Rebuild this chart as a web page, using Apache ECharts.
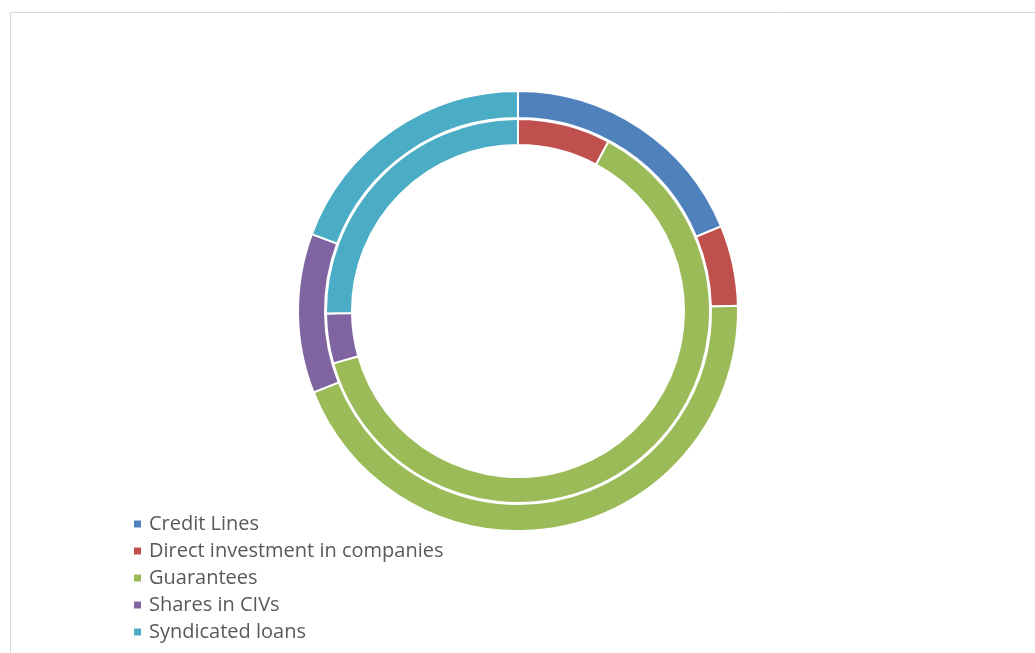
<!DOCTYPE html>
<html>
<head>
<meta charset="utf-8">
<script src="https://cdn.jsdelivr.net/npm/echarts@6/dist/echarts.min.js"></script>
<style>
html,body{margin:0;padding:0;background:#fff;}
#chart{width:1035px;height:653px;}
</style>
</head>
<body>
<div id="chart"></div>
<script>
var categories = ['Credit Lines', 'Direct investment in companies', 'Guarantees', 'Shares in CIVs', 'Syndicated loans'];
var outerValues = [18.7, 5.9, 44.3, 11.7, 19.3];
var innerValues = [0, 7.8, 62.8, 4.2, 25.2];
var colors = ['#4F81BD', '#C0504D', '#9BBB59', '#8064A2', '#4BACC6'];

function toData(vals) {
  return categories.map(function (c, i) { return { name: c, value: vals[i] }; });
}

var chart = echarts.init(document.getElementById('chart'));
chart.setOption({
  animation: false,
  color: colors,
  graphic: [{
    type: 'rect',
    shape: { x: 10.5, y: 12.5, width: 1100, height: 700 },
    style: { fill: 'none', stroke: '#d9d9d9', lineWidth: 1 },
    silent: true
  }],
  legend: {
    orient: 'vertical',
    left: 127,
    top: 508,
    icon: 'rect',
    itemWidth: 9,
    itemHeight: 9,
    itemGap: 5,
    data: categories,
    textStyle: {
      fontFamily: 'Open Sans',
      fontSize: 20,
      color: '#595959',
      lineHeight: 22,
      padding: [0, 0, 0, 2]
    }
  },
  series: [
    {
      type: 'pie',
      center: [518, 311],
      radius: [193, 220],
      startAngle: 90,
      clockwise: true,
      label: { show: false },
      labelLine: { show: false },
      emphasis: { disabled: true },
      itemStyle: { borderColor: '#ffffff', borderWidth: 2 },
      data: toData(outerValues)
    },
    {
      type: 'pie',
      center: [518, 311],
      radius: [166, 192],
      startAngle: 90,
      clockwise: true,
      label: { show: false },
      labelLine: { show: false },
      emphasis: { disabled: true },
      itemStyle: { borderColor: '#ffffff', borderWidth: 2 },
      data: toData(innerValues)
    }
  ]
});
</script>
</body>
</html>
